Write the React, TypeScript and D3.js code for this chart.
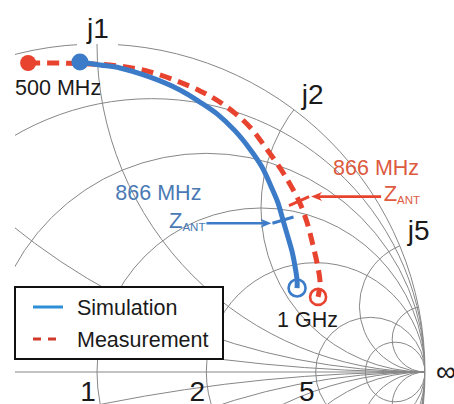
import React from 'react';
import * as d3 from 'd3';

// Smith chart grid values
const resistanceCircles = [0.2, 0.5, 1, 2, 5, 10];
const reactanceArcs = [0.2, 0.5, 1, 2, 5, 10];
const reactanceLabels = [1, 2, 5];
const resistanceLabels = [1, 2, 5];

// Reflection coefficient traces, 500 MHz -> 1 GHz
const simRe = [-0.052, 0.009, 0.07, 0.162, 0.253, 0.314, 0.366, 0.421, 0.466, 0.503, 0.53, 0.552, 0.567, 0.582, 0.595, 0.604, 0.61, 0.61];
const simIm = [0.945, 0.936, 0.927, 0.899, 0.86, 0.823, 0.787, 0.735, 0.68, 0.625, 0.567, 0.515, 0.463, 0.412, 0.366, 0.32, 0.28, 0.256];
const measRe = [-0.21, -0.113, -0.021, 0.04, 0.162, 0.314, 0.396, 0.466, 0.515, 0.558, 0.588, 0.616, 0.64, 0.659, 0.674, 0.68, 0.674];
const measIm = [0.942, 0.942, 0.939, 0.936, 0.915, 0.857, 0.808, 0.747, 0.683, 0.622, 0.573, 0.521, 0.457, 0.384, 0.317, 0.271, 0.229];
const simMarker = 12; // 866 MHz
const measMarker = 11; // 866 MHz

const seriesNames = ['Simulation', 'Measurement'];
const startLabel = '500 MHz';
const endLabel = '1 GHz';
const markerLabel = '866 MHz';

const W = 454;
const H = 404;
const FONT = "Arial, 'Liberation Sans', Helvetica, sans-serif";
const BLUE = '#3b7bc8';
const RED = '#e8432e';
const GRID = '#878787';

const cx = 97;
const cy = 372;
const R = 328;

const sx = d3.scaleLinear().domain([-1, 1]).range([cx - R, cx + R]);
const sy = d3.scaleLinear().domain([-1, 1]).range([cy + R, cy - R]);
const unit = sx(1) - sx(0);

function tracePath(re: number[], im: number[]) {
  const idx = d3.range(re.length);
  return d3
    .line<number>()
    .x((i) => sx(re[i]))
    .y((i) => sy(im[i]))
    .curve(d3.curveCatmullRom.alpha(0.5))(idx) as string;
}

// short tick across the trace at point i
function tick(re: number[], im: number[], i: number, half = 11) {
  const px = sx(re[i]);
  const py = sy(im[i]);
  const dx = sx(re[i + 1]) - sx(re[i - 1]);
  const dy = sy(im[i + 1]) - sy(im[i - 1]);
  const len = Math.hypot(dx, dy);
  const nx = dy / len;
  const ny = -dx / len;
  return {
    a: [px + nx * half, py + ny * half],
    b: [px - nx * half, py - ny * half],
  };
}

function Arrow({ x1, x2, y, color }: { x1: number; x2: number; y: number; color: string }) {
  const dir = Math.sign(x2 - x1);
  const head = 11;
  return (
    <g>
      <line x1={x1} y1={y} x2={x2 - dir * head * 0.6} y2={y} stroke={color} strokeWidth={2.6} />
      <polygon
        points={`${x2},${y} ${x2 - dir * head},${y - 4.5} ${x2 - dir * head * 0.7},${y} ${x2 - dir * head},${y + 4.5}`}
        fill={color}
      />
    </g>
  );
}

export default function App() {
  const outerR = unit;
  const simT = tick(simRe, simIm, simMarker);
  const measT = tick(measRe, measIm, measMarker);
  const simLeft = simT.a[0] < simT.b[0] ? simT.a : simT.b;
  const measRight = measT.a[0] > measT.b[0] ? measT.a : measT.b;

  const blueArrowStart = simLeft[0] - 66;
  const redArrowStart = measRight[0] + 72;

  const jPts = reactanceLabels.map((x) => ({
    x,
    px: sx((x * x - 1) / (x * x + 1)),
    py: sy((2 * x) / (x * x + 1)),
  }));

  const simEnd = simRe.length - 1;
  const measEnd = measRe.length - 1;
  const endMidX = (sx(simRe[simEnd]) + sx(measRe[measEnd])) / 2;
  const endMidY = (sy(simIm[simEnd]) + sy(measIm[measEnd])) / 2;

  return (
    <svg
      width={W}
      height={H}
      style={{ position: 'absolute', left: 0, top: 0, background: '#fff' }}
      fontFamily={FONT}
    >
      <defs>
        <clipPath id="view">
          <rect x={15} y={0} width={W - 15} height={H} />
        </clipPath>
        <clipPath id="unitCircle">
          <circle cx={sx(0)} cy={sy(0)} r={outerR} />
        </clipPath>
      </defs>
      <rect width={W} height={H} fill="#fff" />

      <g clipPath="url(#view)" fill="none" stroke={GRID} strokeWidth={1}>
        <circle cx={sx(0)} cy={sy(0)} r={outerR} />
        <rect x={jPts[0].px - 20} y={jPts[0].py - 6} width={41} height={11} fill="#fff" stroke="none" />
        <g clipPath="url(#unitCircle)">
          {resistanceCircles.map((r) => (
            <circle key={'r' + r} cx={sx(r / (1 + r))} cy={sy(0)} r={unit / (1 + r)} />
          ))}
          {reactanceArcs.map((x) => (
            <g key={'x' + x}>
              <circle cx={sx(1)} cy={sy(1 / x)} r={unit / x} />
              <circle cx={sx(1)} cy={sy(-1 / x)} r={unit / x} />
            </g>
          ))}
          <line x1={sx(-1)} y1={sy(0)} x2={sx(1)} y2={sy(0)} />
        </g>
      </g>

      {/* grid labels */}
      <g fontSize={28} fill="#1a1a1a">
        {jPts.map((p, k) =>
          k === 0 ? (
            <text key={p.x} x={p.px + 1} y={p.py - 6} textAnchor="middle">
              {'j' + p.x}
            </text>
          ) : (
            <text key={p.x} x={p.px + 8} y={p.py - 6}>
              {'j' + p.x}
            </text>
          )
        )}
        <text x={sx(1) + 11} y={sy(0) + 9}>∞</text>
        {resistanceLabels.map((r) => (
          <text key={r} x={sx((r - 1) / (r + 1)) - 9} y={sy(0) + 29} textAnchor="middle">
            {r}
          </text>
        ))}
      </g>

      {/* measurement trace */}
      <path d={tracePath(measRe, measIm)} fill="none" stroke={RED} strokeWidth={5} strokeDasharray="12 7" />
      <circle cx={sx(measRe[0])} cy={sy(measIm[0])} r={8} fill={RED} />
      <circle cx={sx(measRe[measEnd])} cy={sy(measIm[measEnd])} r={8} fill="none" stroke={RED} strokeWidth={2.6} />
      <line x1={measT.a[0]} y1={measT.a[1]} x2={measT.b[0]} y2={measT.b[1]} stroke={RED} strokeWidth={3} />

      {/* simulation trace */}
      <path d={tracePath(simRe, simIm)} fill="none" stroke={BLUE} strokeWidth={5} />
      <circle cx={sx(simRe[0])} cy={sy(simIm[0])} r={8.5} fill={BLUE} />
      <circle cx={sx(simRe[simEnd])} cy={sy(simIm[simEnd])} r={8.5} fill="none" stroke={BLUE} strokeWidth={2.6} />
      <line x1={simT.a[0]} y1={simT.a[1]} x2={simT.b[0]} y2={simT.b[1]} stroke={BLUE} strokeWidth={3} />

      {/* frequency labels */}
      <g fontSize={21.5} fill="#1a1a1a">
        <text x={sx(measRe[0]) - 13} y={sy(measIm[0]) + 32}>{startLabel}</text>
        <text x={endMidX} y={endMidY + 35} textAnchor="middle">{endLabel}</text>
      </g>

      {/* 866 MHz annotations */}
      <Arrow x1={blueArrowStart} x2={simLeft[0] - 1} y={simLeft[1]} color={BLUE} />
      <g fill="#4a7ab5">
        <text x={blueArrowStart - 5} y={simLeft[1] - 23} fontSize={21.5} textAnchor="end">{markerLabel}</text>
        <text x={blueArrowStart - 1} y={simLeft[1] + 5} fontSize={22} textAnchor="end">
          Z<tspan fontSize={11.5} dy={3}>ANT</tspan>
        </text>
      </g>
      <Arrow x1={redArrowStart} x2={measRight[0] + 2} y={measRight[1]} color={RED} />
      <g fill="#dd5a3f">
        <text x={redArrowStart + 38} y={measRight[1] - 22} fontSize={21.5} textAnchor="end">{markerLabel}</text>
        <text x={redArrowStart + 39} y={measRight[1] + 4} fontSize={22} textAnchor="end">
          Z<tspan fontSize={11.5} dy={3}>ANT</tspan>
        </text>
      </g>

      {/* legend */}
      <g>
        <rect x={15} y={287} width={208} height={72} fill="#fff" stroke="#111" strokeWidth={2} />
        <line x1={33} x2={63} y1={307} y2={307} stroke="#2d8fd5" strokeWidth={3} />
        <line x1={33} x2={63} y1={339} y2={339} stroke="#d03a2a" strokeWidth={3} strokeDasharray="8 7" />
        <text x={77} y={315} fontSize={21.5} fill="#1a1a1a">{seriesNames[0]}</text>
        <text x={77} y={347} fontSize={21.5} fill="#1a1a1a">{seriesNames[1]}</text>
      </g>
    </svg>
  );
}
